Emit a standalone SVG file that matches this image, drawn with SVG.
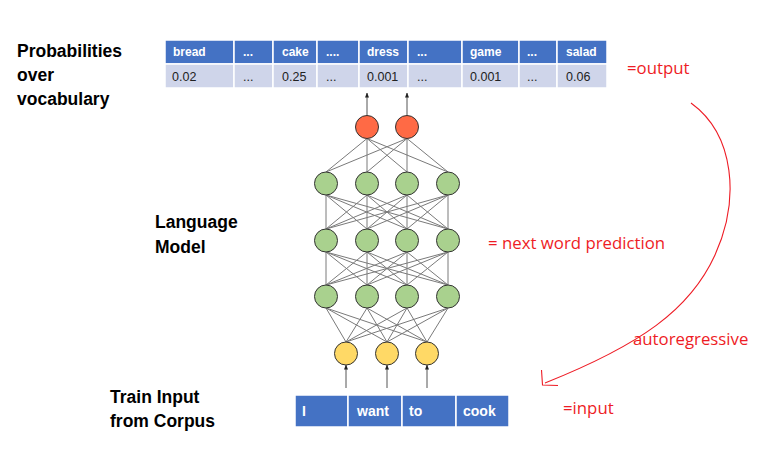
<svg xmlns="http://www.w3.org/2000/svg" width="771" height="456" viewBox="0 0 771 456">
<defs>
<style>
.lbl{font-family:"Liberation Sans",Arial,sans-serif;font-weight:bold;font-size:17.5px;fill:#000}
.hd{fill:#4472C4;stroke:#fff;stroke-width:1.5}
.rw{fill:#CFD5EA;stroke:#fff;stroke-width:1.5}
.ht{font-family:"Liberation Sans",Arial,sans-serif;font-weight:bold;font-size:12px;fill:#fff}
.rt{font-family:"Liberation Sans",Arial,sans-serif;font-size:12.5px;fill:#222}
.it{font-family:"Liberation Sans",Arial,sans-serif;font-weight:bold;font-size:14px;fill:#fff}
.red{font-family:"Open Sans","Liberation Sans",Arial,sans-serif;font-size:16.8px;fill:#EE1C25}
.edge{stroke:#7a7a7a;stroke-width:1;fill:none}
.arr{stroke:#555;stroke-width:1;fill:none;marker-end:url(#ah)}
.nr{fill:#FF6A45;stroke:#333;stroke-width:1}
.ng{fill:#A9D18E;stroke:#333;stroke-width:1}
.ny{fill:#FFD966;stroke:#333;stroke-width:1}
</style>
<marker id="ah" viewBox="0 0 10 10" refX="9" refY="5" markerWidth="5" markerHeight="5" orient="auto">
<path d="M0 1L10 5L0 9z" fill="#222"/>
</marker>
</defs>
<rect width="771" height="456" fill="#fff"/>

<g id="label-prob">
<text class="lbl" x="17" y="57">Probabilities</text>
<text class="lbl" x="17" y="81">over</text>
<text class="lbl" x="17" y="105">vocabulary</text>
</g>
<g id="label-lm">
<text class="lbl" x="155" y="228">Language</text>
<text class="lbl" x="155" y="253">Model</text>
</g>
<g id="label-train">
<text class="lbl" x="110" y="403">Train Input</text>
<text class="lbl" x="110" y="427">from Corpus</text>
</g>

<g id="vocab-table">
<rect class="hd" x="165" y="40" width="69" height="24"/>
<rect class="hd" x="234" y="40" width="39" height="24"/>
<rect class="hd" x="273" y="40" width="44" height="24"/>
<rect class="hd" x="317" y="40" width="42" height="24"/>
<rect class="hd" x="359" y="40" width="49" height="24"/>
<rect class="hd" x="408" y="40" width="54" height="24"/>
<rect class="hd" x="462" y="40" width="57" height="24"/>
<rect class="hd" x="519" y="40" width="38" height="24"/>
<rect class="hd" x="557" y="40" width="50" height="24"/>
<rect class="rw" x="165" y="64" width="69" height="24"/>
<rect class="rw" x="234" y="64" width="39" height="24"/>
<rect class="rw" x="273" y="64" width="44" height="24"/>
<rect class="rw" x="317" y="64" width="42" height="24"/>
<rect class="rw" x="359" y="64" width="49" height="24"/>
<rect class="rw" x="408" y="64" width="54" height="24"/>
<rect class="rw" x="462" y="64" width="57" height="24"/>
<rect class="rw" x="519" y="64" width="38" height="24"/>
<rect class="rw" x="557" y="64" width="50" height="24"/>
<text class="ht" x="173" y="56">bread</text>
<text class="ht" x="243" y="56">...</text>
<text class="ht" x="282" y="56">cake</text>
<text class="ht" x="326" y="56">....</text>
<text class="ht" x="367" y="56">dress</text>
<text class="ht" x="417" y="56">...</text>
<text class="ht" x="470" y="56">game</text>
<text class="ht" x="527" y="56">...</text>
<text class="ht" x="566" y="56">salad</text>
<text class="rt" x="172" y="81">0.02</text>
<text class="rt" x="243" y="81">...</text>
<text class="rt" x="282" y="81">0.25</text>
<text class="rt" x="326" y="81">...</text>
<text class="rt" x="367" y="81">0.001</text>
<text class="rt" x="417" y="81">...</text>
<text class="rt" x="470" y="81">0.001</text>
<text class="rt" x="527" y="81">...</text>
<text class="rt" x="566" y="81">0.06</text>
</g>

<g id="input-table">
<rect class="hd" x="295" y="395" width="53" height="32"/>
<rect class="hd" x="348" y="395" width="54" height="32"/>
<rect class="hd" x="402" y="395" width="54" height="32"/>
<rect class="hd" x="456" y="395" width="53" height="32"/>
<text class="it" x="302" y="416">I</text>
<text class="it" x="357" y="416">want</text>
<text class="it" x="409" y="416">to</text>
<text class="it" x="463" y="416">cook</text>
</g>

<g id="connectors">
<path class="edge" d="M367 138.5L326 172M367 138.5L367 172M367 138.5L407 172M367 138.5L448 172M407 138.5L326 172M407 138.5L367 172M407 138.5L407 172M407 138.5L448 172"/>
<path class="edge" d="M326 195L326 229M326 195L367 229M326 195L407 229M326 195L448 229M367 195L326 229M367 195L367 229M367 195L407 229M367 195L448 229M407 195L326 229M407 195L367 229M407 195L407 229M407 195L448 229M448 195L326 229M448 195L367 229M448 195L407 229M448 195L448 229"/>
<path class="edge" d="M326 252L326 285M326 252L367 285M326 252L407 285M326 252L448 285M367 252L326 285M367 252L367 285M367 252L407 285M367 252L448 285M407 252L326 285M407 252L367 285M407 252L407 285M407 252L448 285M448 252L326 285M448 252L367 285M448 252L407 285M448 252L448 285"/>
<path class="edge" d="M326 308L346 342M326 308L387 342M326 308L427 342M367 308L346 342M367 308L387 342M367 308L427 342M407 308L346 342M407 308L387 342M407 308L427 342M448 308L346 342M448 308L387 342M448 308L427 342"/>
<line class="arr" x1="367" y1="115.5" x2="367" y2="93"/>
<line class="arr" x1="407" y1="115.5" x2="407" y2="93"/>
<line class="arr" x1="346" y1="388" x2="346" y2="365"/>
<line class="arr" x1="387" y1="388" x2="387" y2="365"/>
<line class="arr" x1="427" y1="388" x2="427" y2="365"/>
<path id="autoregressive-curve" d="M691 103C735 135 740 200 715 255C690 310 640 345 545 383" fill="none" stroke="#EE1C25" stroke-width="1.1"/>
<path d="M541.5 370L542.5 385L558 385.5" fill="none" stroke="#EE1C25" stroke-width="1.1"/>
</g>

<g id="out-1"><circle class="nr" cx="367" cy="127" r="11.5"/></g>
<g id="out-2"><circle class="nr" cx="407" cy="127" r="11.5"/></g>
<g id="h1-1"><circle class="ng" cx="326" cy="183.5" r="11.5"/></g>
<g id="h1-2"><circle class="ng" cx="367" cy="183.5" r="11.5"/></g>
<g id="h1-3"><circle class="ng" cx="407" cy="183.5" r="11.5"/></g>
<g id="h1-4"><circle class="ng" cx="448" cy="183.5" r="11.5"/></g>
<g id="h2-1"><circle class="ng" cx="326" cy="240.5" r="11.5"/></g>
<g id="h2-2"><circle class="ng" cx="367" cy="240.5" r="11.5"/></g>
<g id="h2-3"><circle class="ng" cx="407" cy="240.5" r="11.5"/></g>
<g id="h2-4"><circle class="ng" cx="448" cy="240.5" r="11.5"/></g>
<g id="h3-1"><circle class="ng" cx="326" cy="296.5" r="11.5"/></g>
<g id="h3-2"><circle class="ng" cx="367" cy="296.5" r="11.5"/></g>
<g id="h3-3"><circle class="ng" cx="407" cy="296.5" r="11.5"/></g>
<g id="h3-4"><circle class="ng" cx="448" cy="296.5" r="11.5"/></g>
<g id="in-1"><circle class="ny" cx="346" cy="353.5" r="11.5"/></g>
<g id="in-2"><circle class="ny" cx="387" cy="353.5" r="11.5"/></g>
<g id="in-3"><circle class="ny" cx="427" cy="353.5" r="11.5"/></g>

<g id="annotations">
<text class="red" x="627" y="74">=output</text>
<text class="red" x="488" y="249">= next word prediction</text>
<text class="red" x="633" y="345">autoregressive</text>
<text class="red" x="563" y="414">=input</text>
</g>
</svg>
